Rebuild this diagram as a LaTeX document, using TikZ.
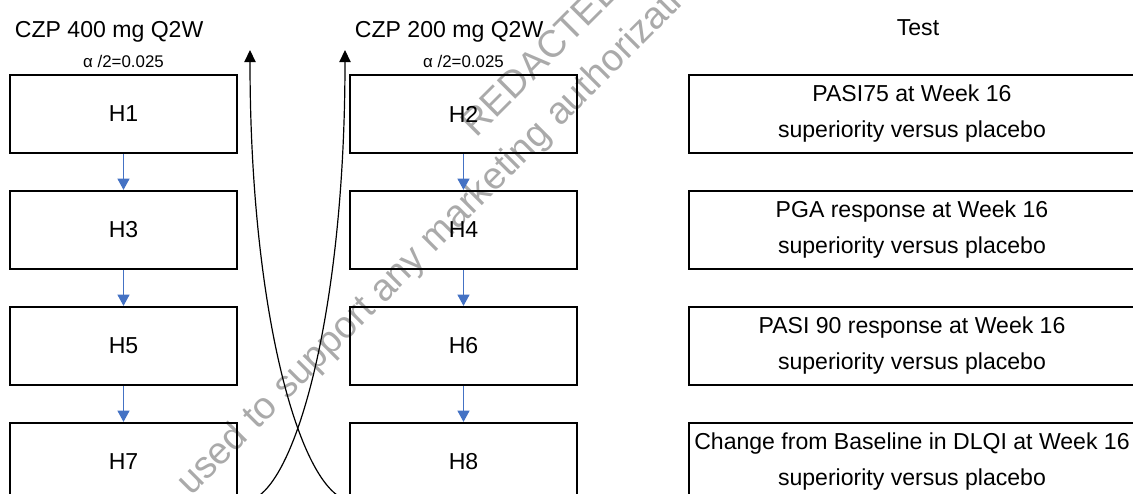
\documentclass[tikz,border=0pt]{standalone}
\usepackage{fontspec}
\setmainfont{Liberation Sans}
\usepackage{tikz}
\usepackage{xcolor}
\usetikzlibrary{arrows.meta, positioning}

\definecolor{flowblue}{RGB}{68,114,196}
\definecolor{markgray}{RGB}{170,170,170}

\begin{document}
\begin{tikzpicture}[x=0.025cm, y=-0.025cm,
    hypbox/.style={draw, line width=1.6pt, minimum width=5.675cm, minimum height=1.95cm, inner sep=0pt, font=\fontsize{16.4}{25.6}\selectfont},
    testbox/.style={hypbox, minimum width=11.15cm, align=center},
    flow/.style={-{Triangle[width=0.3cm, length=0.28cm]}, flowblue, line width=0.9pt},
    pass/.style={-{Triangle[width=0.28cm, length=0.3cm]}, line width=0.85pt},
    coltitle/.style={font=\fontsize{16.4}{20}\selectfont},
    alphalbl/.style={font=\fontsize{12}{14}\selectfont},
    mark text/.style={markgray, font=\fontsize{27}{30}\selectfont, rotate=45, anchor=base west}]
    \useasboundingbox (0,0) rectangle (1133,494);

    % Watermark
    \node[mark text] (wmtop) at (473,142) {REDACTED};
    \node[mark text] (wmline) at (188,500) {used to support any marketing authorization};

    % Column headers
    \node[coltitle, anchor=west] (dose400) at (10,32) {CZP 400 mg Q2W};
    \node[coltitle, anchor=west] (dose200) at (350,32) {CZP 200 mg Q2W};
    \node[coltitle] (testhead) at (918,28) {Test};
    \node[alphalbl] (alpha400) at (123.5,61) {α /2=0.025};
    \node[alphalbl] (alpha200) at (463.5,61) {α /2=0.025};

    % CZP 400 mg hypotheses
    \node[hypbox] (h1) at (123.5,114) {H1};
    \node[hypbox] (h3) at (123.5,230) {H3};
    \node[hypbox] (h5) at (123.5,346) {H5};
    \node[hypbox] (h7) at (123.5,462) {H7};

    % CZP 200 mg hypotheses
    \node[hypbox] (h2) at (463.5,114) {H2};
    \node[hypbox] (h4) at (463.5,230) {H4};
    \node[hypbox] (h6) at (463.5,346) {H6};
    \node[hypbox] (h8) at (463.5,462) {H8};

    % Tests
    \node[testbox] (test1) at (912,114) {PASI75 at Week 16\\superiority versus placebo};
    \node[testbox] (test2) at (912,230) {PGA response at Week 16\\superiority versus placebo};
    \node[testbox] (test3) at (912,346) {PASI 90 response at Week 16\\superiority versus placebo};
    \node[testbox] (test4) at (912,462) {Change from Baseline in DLQI at Week 16\\superiority versus placebo};

    % Sequential testing
    \draw[flow] (h1) -- (h3);
    \draw[flow] (h3) -- (h5);
    \draw[flow] (h5) -- (h7);
    \draw[flow] (h2) -- (h4);
    \draw[flow] (h4) -- (h6);
    \draw[flow] (h6) -- (h8);

    % Alpha passed across the doses
    \coordinate (lowA) at (340,497);
    \coordinate (upA) at (250,50);
    \coordinate (lowB) at (257,497);
    \coordinate (upB) at (345,50);
    \draw[pass] (lowA) .. controls (295,470) and (250,300) .. (upA);
    \draw[pass] (lowB) .. controls (300,470) and (345,300) .. (upB);
\end{tikzpicture}
\end{document}
